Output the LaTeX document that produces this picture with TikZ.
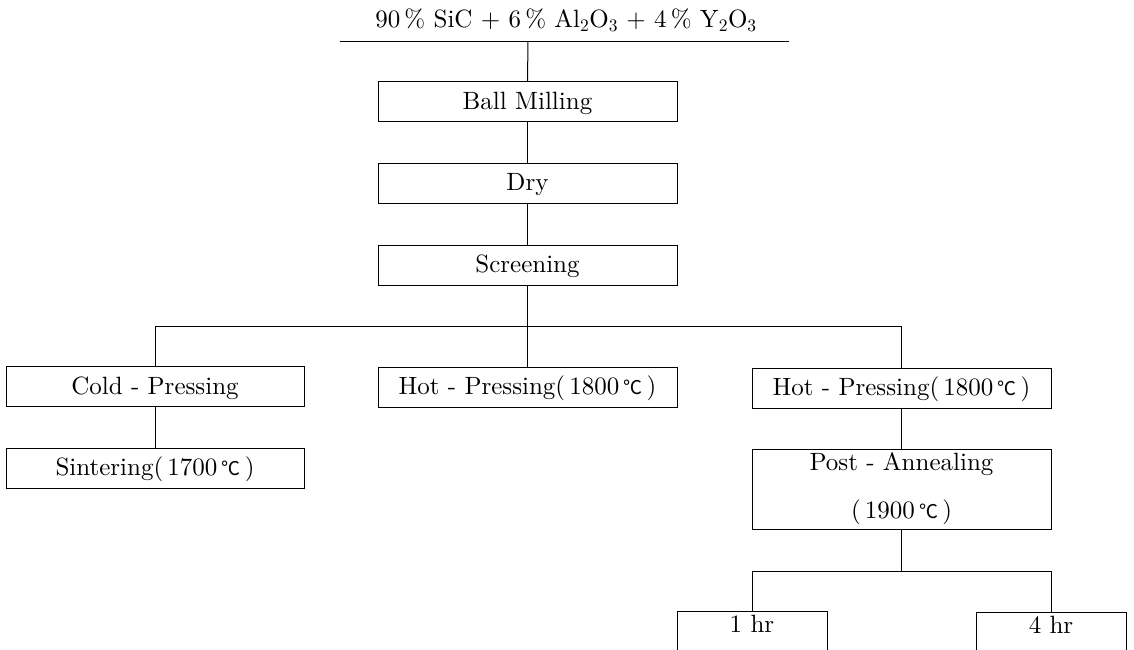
\documentclass[tikz,border=0pt]{standalone}
\usepackage{fontspec}
\setmainfont{lmroman10-regular}[Extension=.otf]
\newfontfamily\cjk{Noto Sans CJK KR}
\newcommand{\degC}{{\cjk\fontsize{19}{19}\selectfont ℃}}
\begin{document}
\begin{tikzpicture}[x=1pt,y=-1pt,
  every node/.style={font=\fontsize{25}{30}\selectfont},
  conn/.style={draw=black,line width=1pt},
  stepbox/.style={draw=black,line width=1pt,inner sep=0pt,minimum height=40pt,
     text height=18pt,text depth=3pt},
  wbox/.style={stepbox,minimum width=299pt},
  hrbox/.style={draw=black,line width=1pt,inner xsep=0pt,inner ysep=0pt,minimum width=150pt,
     text height=21pt,text depth=25pt,anchor=north}
]
\clip (0,0) rectangle (1134,649);
\fill[white] (0,0) rectangle (1134,649);

\node (title) at (566,20) {90\,\% SiC + 6\,\% Al\textsubscript{2}O\textsubscript{3} + 4\,\% Y\textsubscript{2}O\textsubscript{3}};
\coordinate (tl) at (340,41);
\coordinate (tr) at (789,41);
\coordinate (tm) at (528,41);

\node[wbox] (ball) at (527.5,101.5) {Ball Milling};
\node[wbox] (dry) at (527.5,183) {Dry};
\node[wbox] (screen) at (527.5,265) {Screening};

\node[wbox,minimum width=298pt] (cold) at (155,386.5) {Cold - Pressing};
\node[wbox] (hot1) at (527.5,387) {Hot - Pressing(\,1800\,\degC\,)};
\node[wbox] (hot2) at (901.5,388) {Hot - Pressing(\,1800\,\degC\,)};

\node[wbox,minimum width=298pt] (sinter) at (155,468) {Sintering(\,1700\,\degC\,)};
\node[draw=black,line width=1pt,inner sep=0pt,minimum width=299pt,minimum height=80pt,
      align=center,font=\fontsize{25}{48}\selectfont] (post) at (901.5,489)
      {Post - Annealing\\(\,1900\,\degC\,)};

\node[hrbox] (one) at (752,611) {1 hr};
\node[hrbox] (four) at (1051,612) {4 hr};

\coordinate (bar) at (528,326);
\coordinate (bar2) at (901.5,571);

\draw[conn] (tl) -- (tr);
\draw[conn] (tm) -- (ball.north);
\draw[conn] (ball.south) -- (dry.north);
\draw[conn] (dry.south) -- (screen.north);
\draw[conn] (screen.south) -- (hot1.north);
\draw[conn] (cold.north) |- (bar) -| (hot2.north);
\draw[conn] (cold.south) -- (sinter.north);
\draw[conn] (hot2.south) -- (post.north);
\draw[conn] (post.south) -- (bar2);
\draw[conn] (one.north) |- (bar2) -| (four.north);
\end{tikzpicture}
\end{document}
